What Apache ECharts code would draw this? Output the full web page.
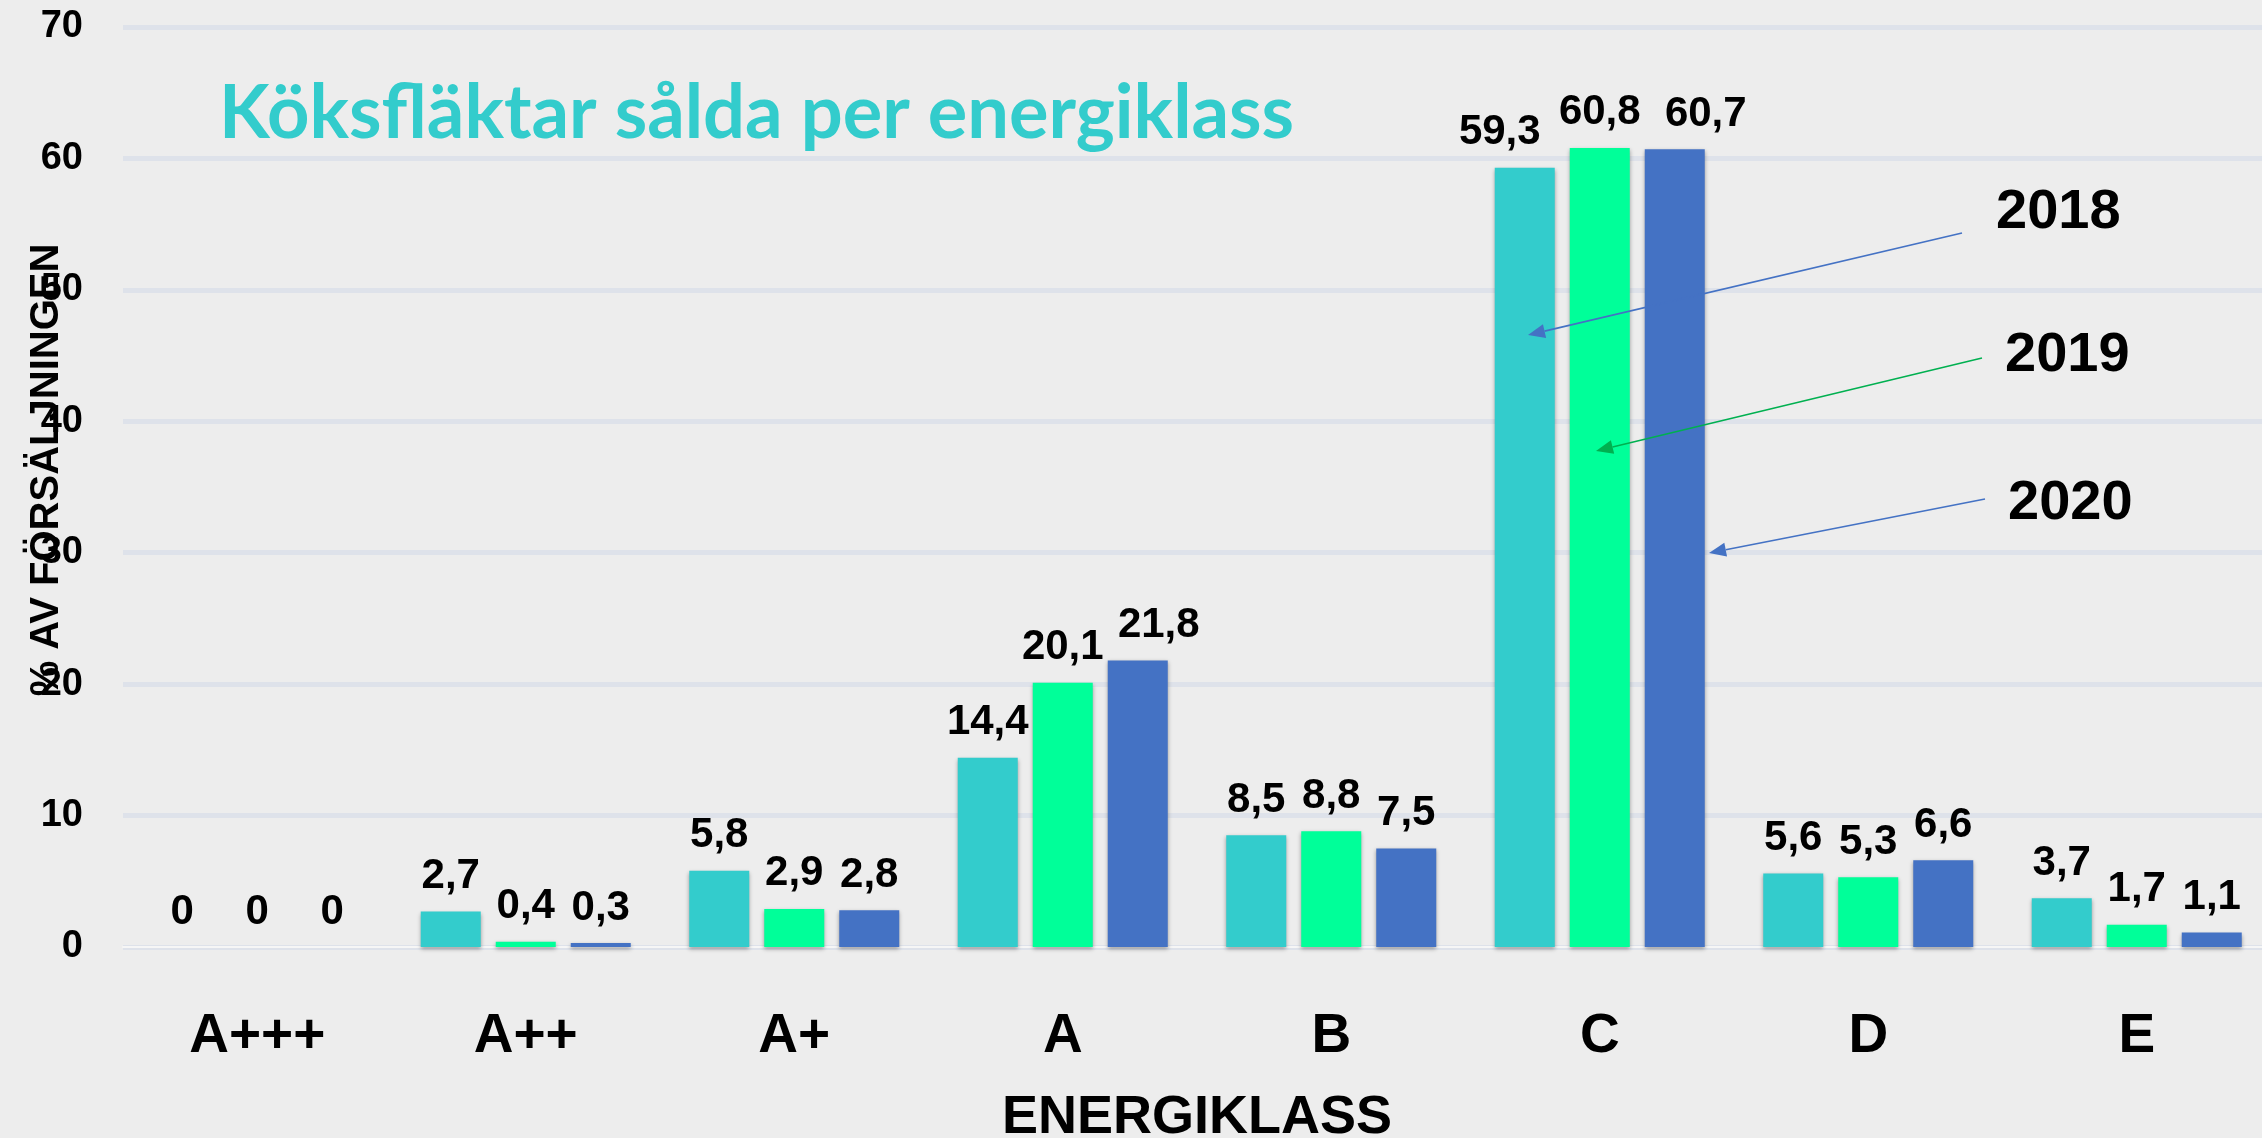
<!DOCTYPE html>
<html>
<head>
<meta charset="utf-8">
<title>Köksfläktar sålda per energiklass</title>
<script src="https://cdn.jsdelivr.net/npm/echarts@6/dist/echarts.min.js"></script>
<style>
  html, body { margin: 0; padding: 0; background: #ededed; }
  #chart { width: 2262px; height: 1138px; }
</style>
</head>
<body>
<div id="chart"></div>
<script>
// energiklasser
const categories = ['A+++', 'A++', 'A+', 'A', 'B', 'C', 'D', 'E'];
// % av försäljningen per år
const years = ['2018', '2019', '2020'];
const values2018 = [0, 2.7, 5.8, 14.4, 8.5, 59.3, 5.6, 3.7];
const values2019 = [0, 0.4, 2.9, 20.1, 8.8, 60.8, 5.3, 1.7];
const values2020 = [0, 0.3, 2.8, 21.8, 7.5, 60.7, 6.6, 1.1];
const yTicks = [0, 10, 20, 30, 40, 50, 60, 70];

const colors = ['#33cccc', '#00ff99', '#4472c4'];
const font = '"Liberation Sans", Arial, sans-serif';

// några etiketter är flyttade i sidled så de inte krockar
const labelShift = { '2018|C': -25, '2020|C': 31, '2020|A': 21 };

// pilar från årtalen in i staplarna (pixlar)
const arrows = [
  { text: '2018', tx: 1996, ty: 195, from: [1962, 233], to: [1528, 335], color: '#4472c4' },
  { text: '2019', tx: 2005, ty: 338, from: [1982, 358], to: [1596, 451], color: '#00b050' },
  { text: '2020', tx: 2008, ty: 486, from: [1985, 499], to: [1709, 553], color: '#4472c4' }
];

function arrowGraphic(a) {
  const dx = a.to[0] - a.from[0], dy = a.to[1] - a.from[1];
  const len = Math.sqrt(dx * dx + dy * dy);
  const ux = dx / len, uy = dy / len;
  const hl = 17, hw = 7;
  const bx = a.to[0] - ux * hl, by = a.to[1] - uy * hl;
  return [
    {
      type: 'line', z: 100,
      shape: { x1: a.from[0], y1: a.from[1], x2: bx, y2: by },
      style: { stroke: a.color, lineWidth: 1.6 }
    },
    {
      type: 'polygon', z: 100,
      shape: { points: [a.to, [bx - uy * hw, by + ux * hw], [bx + uy * hw, by - ux * hw]] },
      style: { fill: a.color }
    },
    {
      type: 'text', z: 100, left: a.tx, top: a.ty - 10,
      style: { text: a.text, font: 'bold 56px ' + font, fill: '#000' }
    }
  ];
}

const labelOpt = {
  show: true,
  position: 'top',
  distance: 14,
  color: '#000',
  fontFamily: font,
  fontWeight: 'bold',
  fontSize: 42,
  formatter: p => String(p.value).replace('.', ',')
};

function makeSeries(name, values, color) {
  const data = values.map((v, i) => {
    const dx = labelShift[name + '|' + categories[i]];
    return dx ? { value: v, label: { offset: [dx, 0] } } : v;
  });
  return {
    name: name,
    type: 'bar',
    data: data,
    barWidth: 60,
    barGap: '25%',
    itemStyle: {
      color: color,
      shadowColor: 'rgba(0,0,0,0.35)',
      shadowBlur: 4,
      shadowOffsetY: 2
    },
    label: labelOpt
  };
}

const chart = echarts.init(document.getElementById('chart'));
const option = {
  backgroundColor: '#ededed',
  animation: false,
  title: {
    text: 'Köksfläktar sålda per energiklass',
    left: 214,
    top: 72,
    textStyle: {
      color: '#33cccc',
      fontFamily: 'Lato, sans-serif',
      fontWeight: 'bold',
      fontSize: 74
    }
  },
  grid: { left: 123, right: -9, top: 27, bottom: 191, containLabel: false, outerBoundsMode: 'none' },
  xAxis: {
    type: 'category',
    data: categories,
    name: 'ENERGIKLASS',
    nameLocation: 'middle',
    nameGap: 144,
    nameTextStyle: { color: '#000', fontFamily: font, fontWeight: 'bold', fontSize: 54 },
    axisLine: { show: true, lineStyle: { color: '#f6f6f6', width: 2 } },
    axisTick: { show: false },
    axisLabel: { color: '#000', fontFamily: font, fontWeight: 'bold', fontSize: 55, margin: 62 }
  },
  yAxis: {
    type: 'value',
    min: yTicks[0],
    max: yTicks[yTicks.length - 1],
    interval: 10,
    name: '% AV FÖRSÄLJNINGEN',
    nameLocation: 'middle',
    nameRotate: 90,
    nameGap: 56,
    nameMoveOverlap: false,
    nameTextStyle: { color: '#000', fontFamily: font, fontWeight: 'bold', fontSize: 40, padding: [0, 0, 0, 34] },
    axisLine: { show: false },
    axisTick: { show: false },
    axisLabel: { color: '#000', fontFamily: font, fontWeight: 'bold', fontSize: 38, margin: 40 },
    splitLine: { lineStyle: { color: '#dee2ea', width: 5 } }
  },
  series: [
    makeSeries(years[0], values2018, colors[0]),
    makeSeries(years[1], values2019, colors[1]),
    makeSeries(years[2], values2020, colors[2])
  ],
  graphic: arrows.flatMap(arrowGraphic)
};
chart.setOption(option);
</script>
</body>
</html>
